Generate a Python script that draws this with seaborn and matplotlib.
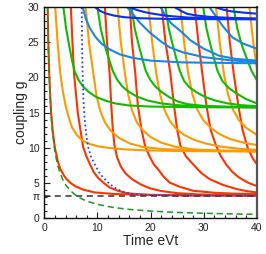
import numpy as np
import pandas as pd
import seaborn as sns
import matplotlib.pyplot as plt

# branches, (time eVt, coupling g), one list per branch
red = [
    [(0.63, 30), (0.76, 25), (0.95, 20), (1.28, 15), (1.63, 12), (1.99, 10), (2.56, 8), (3.0, 7),
     (3.7, 6), (4.2, 5.5), (4.85, 5), (5.8, 4.5), (7.3, 4), (9.5, 3.6), (13, 3.38), (20, 3.24),
     (30, 3.18), (40, 3.16)],
    [(5.0, 30), (5.3, 25), (5.6, 20.5), (6.3, 15), (6.8, 12.5), (7.3, 10.1), (7.9, 8.8), (8.6, 7.6),
     (9.3, 6.5), (10.1, 5.7), (11.1, 5.0), (12.3, 4.3), (13.8, 3.85), (15.5, 3.5), (17.5, 3.35),
     (20, 3.25), (25, 3.2), (32, 3.17), (40, 3.16)],
    [(11.4, 30), (11.8, 25), (12.3, 20.5), (12.6, 16), (12.9, 12.5), (13.2, 10.3), (13.7, 8.6),
     (14.4, 7.3), (15.3, 6.3), (16.5, 5.5), (18, 4.8), (19.8, 4.2), (22, 3.8), (25, 3.5), (29, 3.32),
     (34, 3.23), (40, 3.19)],
    [(16.1, 30), (16.5, 25), (17.1, 20.7), (17.6, 16), (18.3, 12.5), (19.0, 10.1), (19.9, 8.6),
     (20.6, 7.6), (21.4, 6.9), (22.5, 5.8), (23.6, 5.0), (25.5, 4.4), (28, 3.84), (32, 3.55),
     (36, 3.42), (40, 3.37)],
    [(22.1, 30), (22.8, 25), (23.7, 20.7), (24.4, 16), (25.0, 12.5), (25.6, 10.3), (26.6, 8.8),
     (28.0, 7.6), (29.5, 6.4), (31.1, 5.5), (33.5, 4.7), (36.1, 4.1), (38, 3.8), (40, 3.6)],
    [(28.3, 30), (29.0, 25), (29.7, 20.7), (30.5, 16), (31.3, 12.5), (32.3, 10.3), (33.2, 8.8),
     (34.2, 7.6), (35.4, 6.5), (36.7, 5.7), (38.3, 5.0), (40, 4.5)],
    [(34.3, 30), (34.9, 25), (35.6, 20.7), (36.5, 16), (37.3, 12.5), (38.2, 10.1), (39.1, 8.6), (40, 7.6)],
]
orange = [
    [(2.06, 30), (2.5, 25), (3.0, 20.7), (3.5, 18), (4.0, 16), (4.6, 14.3), (5.2, 12.9), (6.1, 11.8),
     (7.2, 11.0), (8.6, 10.5), (10.3, 10.15), (12.3, 9.95), (15, 9.75), (19, 9.6), (26, 9.5), (40, 9.44)],
    [(7.8, 30), (8.4, 25), (9.2, 20.7), (9.8, 17.5), (10.5, 15.3), (11.4, 13.6), (12.5, 12.4),
     (14, 11.4), (16, 10.6), (18.5, 10.1), (22, 9.8), (28, 9.6), (40, 9.47)],
    [(13.8, 30), (14.4, 25), (15.2, 20.4), (15.8, 17.5), (16.5, 15.3), (17.4, 13.6), (18.5, 12.5),
     (20, 11.5), (22, 10.7), (24.7, 10.1), (28, 9.75), (33, 9.57), (40, 9.48)],
    [(19.6, 30), (20.3, 25), (21.1, 20.4), (21.8, 17.5), (22.6, 15.4), (23.6, 13.8), (24.8, 12.7),
     (26.3, 11.8), (28.2, 11.1), (30.5, 10.55), (33.5, 10.1), (37, 9.8), (40, 9.68)],
    [(25.6, 30), (26.3, 25), (27.1, 20.4), (27.9, 17.5), (28.8, 15.4), (29.9, 13.9), (31.3, 12.8),
     (33, 11.9), (35, 11.2), (37.5, 10.7), (40, 10.35)],
    [(32.3, 30), (33, 25), (33.8, 20.4), (34.6, 17.5), (35.5, 15.4), (36.6, 13.9), (38, 12.8), (40, 11.8)],
    [(38.6, 30), (39.3, 25), (40, 21.2)],
]
green = [
    [(3.6, 30), (4.1, 27), (4.7, 24.5), (5.2, 22.5), (5.7, 20.9), (6.4, 19.7), (7.3, 18.7), (8.4, 17.9),
     (9.8, 17.2), (11.5, 16.7), (13.3, 16.3), (16, 16.0), (20, 15.85), (28, 15.76), (40, 15.72)],
    [(10, 30), (10.6, 27), (11.4, 24.5), (12.2, 22.5), (12.9, 20.9), (13.7, 19.7), (14.7, 18.7),
     (16, 17.9), (17.5, 17.25), (19.5, 16.7), (22, 16.3), (25, 16.05), (30, 15.85), (40, 15.75)],
    [(16.4, 30), (17.0, 27), (17.8, 24.5), (18.5, 22.5), (19.1, 20.9), (19.9, 19.7), (20.9, 18.7),
     (22.1, 17.9), (23.5, 17.2), (25, 16.6), (26.8, 16.2), (30, 15.95), (34, 15.83), (40, 15.76)],
    [(22.8, 30), (23.4, 27), (24.2, 24.5), (24.9, 22.5), (25.5, 20.9), (26.3, 19.5), (27.3, 18.6),
     (28.6, 17.9), (30.3, 17.2), (32.2, 16.7), (34.5, 16.3), (37, 16.05), (40, 15.9)],
    [(29.9, 30), (30.5, 27), (31.3, 24.5), (32, 22.5), (32.6, 20.9), (33.5, 19.5), (34.7, 18.5),
     (36.2, 17.7), (38, 16.9), (40, 16.3)],
    [(35.6, 30), (36.3, 27), (37.2, 24.5), (38.2, 22.5), (39, 20.9), (40, 19.6)],
]
lightblue = [
    [(7.25, 30), (7.8, 28.4), (8.6, 27), (9.6, 25.8), (10.8, 24.8), (12.3, 24.0), (14.2, 23.3),
     (16.6, 22.8), (20, 22.4), (26, 22.15), (40, 22.02)],
    [(15.6, 30), (16.6, 29.1), (18, 27.8), (20, 26.3), (22, 25.1), (23.6, 24.3), (26, 23.6),
     (30, 22.9), (35, 22.45), (40, 22.2)],
    [(21.9, 30), (22.8, 28.8), (23.9, 27.7), (25.5, 26.7), (27.5, 25.3), (30, 24.1), (32.9, 23.1),
     (36, 22.65), (40, 22.4)],
    [(31.1, 30), (32.2, 28.8), (33.6, 27.3), (35.4, 25.7), (37.5, 24.8), (40, 24.1)],
]
darkblue = [
    [(9.6, 30), (10.5, 29.5), (11.5, 29.15), (13, 28.85), (15, 28.6), (18, 28.45), (23, 28.35), (40, 28.29)],
    [(16.2, 30), (17.5, 29.6), (19, 29.3), (20.4, 29.1), (23, 28.8), (27, 28.55), (33, 28.4), (40, 28.33)],
    [(24.6, 30), (25.7, 29.5), (26.8, 29.1), (28.5, 28.85), (31, 28.65), (35, 28.5), (40, 28.42)],
    [(32.3, 30), (33.5, 29.7), (35, 29.45), (37.5, 29.25), (40, 29.1)],
]

# short time estimate (green dashed) and envelope (blue dotted)
short_t = [0.63, 0.8, 1, 1.25, 1.5, 2, 2.5, 3, 3.5, 4, 5, 6, 7, 8, 10, 13, 16, 20, 25, 30, 35, 40]
short_g = [30, 23.5, 18.8, 15.1, 12.6, 9.4, 7.5, 6.3, 5.4, 4.7, 3.8, 3.14, 2.7, 2.36, 1.9, 1.45,
           1.18, 0.94, 0.75, 0.63, 0.54, 0.47]
env_t = [7.05, 7.1, 7.2, 7.35, 7.6, 7.9, 8.2, 8.8, 9.5, 10.3, 11.1, 12.3, 13.6, 15, 16.7, 19, 23, 30, 40]
env_g = [30, 25, 20.7, 17, 14, 11.8, 10.2, 8.7, 7.6, 6.5, 5.7, 4.8, 4.1, 3.65, 3.37, 3.24, 3.18, 3.16, 3.15]

families = {"red": red, "orange": orange, "green": green, "lightblue": lightblue, "darkblue": darkblue}
colors = {"red": "#ff3300", "orange": "#ff9a00", "green": "#11bb00",
          "lightblue": "#1a86e6", "darkblue": "#0a30f0"}

rows = []
for fam, branches in families.items():
    for i, pts in enumerate(branches):
        for t, g in pts:
            rows.append((fam, fam + str(i), t, g))
df = pd.DataFrame(rows, columns=["family", "branch", "t", "g"])

sns.set_style("ticks")
plt.rcParams['font.family'] = ['Liberation Sans', 'DejaVu Sans']

fig = plt.figure(figsize=(2.66, 2.54), dpi=100)
ax = fig.add_axes([0.1665, 0.143, 0.7995, 0.828])

sns.lineplot(data=df, x="t", y="g", hue="family", units="branch", estimator=None, sort=False,
             palette=colors, linewidth=1.5, legend=False, ax=ax)
ax.axhline(np.pi, color="#333333", ls=(0, (4, 3)), lw=1.1)
sns.lineplot(x=short_t, y=short_g, color="#1a9a1a", ls=(0, (4, 2.5)), lw=1.1, sort=False, ax=ax)
sns.lineplot(x=env_t, y=env_g, color="#2244ff", ls=(0, (1, 1.5)), lw=1.3, sort=False, ax=ax)

ax.set_xlim(0, 40)
ax.set_ylim(0, 30)
ax.set_xticks([0, 10, 20, 30, 40])
ax.set_xticks(np.arange(0, 41, 2), minor=True)
ax.set_yticks([0, np.pi, 5, 10, 15, 20, 25, 30])
ax.set_yticklabels(["0", "π", "5", "10", "15", "20", "25", "30"])
ax.set_yticks(np.arange(0, 31, 1), minor=True)
ax.tick_params(which="both", direction="in", labelsize=7.5, width=0.8, colors="#222222")
ax.tick_params(which="major", length=4)
ax.tick_params(which="minor", length=2)
ax.set_xlabel("Time eVt", fontsize=10, labelpad=1)
ax.set_ylabel("coupling g", fontsize=10, labelpad=0)
for side in ["top", "left", "bottom"]:
    ax.spines[side].set_linewidth(1.0)
    ax.spines[side].set_color("#111111")
ax.spines["right"].set_linewidth(1.6)
ax.spines["right"].set_color("#555555")

fig.savefig("out.png", dpi=100)
